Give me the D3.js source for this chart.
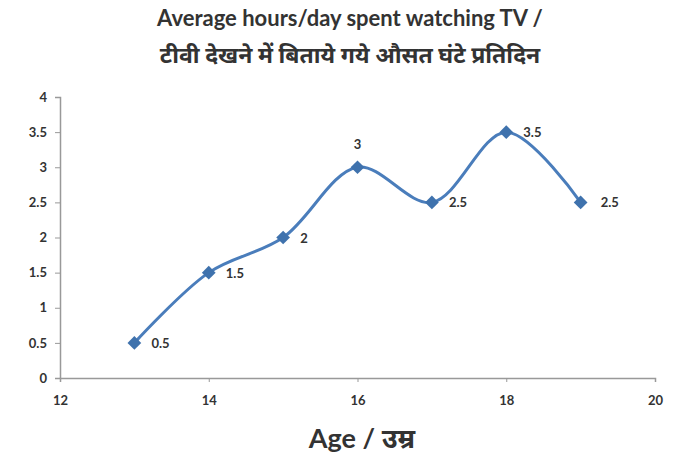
<!DOCTYPE html>
<html>
<head>
<meta charset="utf-8">
<script src="https://d3js.org/d3.v7.min.js"></script>
<style>
  body { margin: 0; background: #fff; }
  svg text { font-family: "Lato", "Noto Sans", "Noto Sans Devanagari", sans-serif; fill: #333; }
</style>
</head>
<body>
<svg id="chart" width="689" height="457"></svg>
<script>
// data
const ages = [13, 14, 15, 16, 17, 18, 19];
const hours = [0.5, 1.5, 2, 3, 2.5, 3.5, 2.5];
const xTicks = [12, 14, 16, 18, 20];
const yTicks = [0, 0.5, 1, 1.5, 2, 2.5, 3, 3.5, 4];
const titleLines = ["Average hours/day spent watching TV /", "टीवी देखने में बिताये गये औसत घंटे प्रतिदिन"];
const xTitle = "Age / उम्र";

const svg = d3.select("#chart");
const plotLeft = 60, plotRight = 655, plotTop = 97, plotBottom = 378;

const x = d3.scaleLinear().domain([12, 20]).range([plotLeft, plotRight]);
const y = d3.scaleLinear().domain([0, 4]).range([plotBottom, plotTop]);

// axes
const yAxis = svg.append("g")
  .attr("transform", `translate(${plotLeft},0)`)
  .call(d3.axisLeft(y).tickValues(yTicks).tickSize(5).tickPadding(8).tickFormat(d3.format("")));
const xAxis = svg.append("g")
  .attr("transform", `translate(0,${plotBottom})`)
  .call(d3.axisBottom(x).tickValues(xTicks).tickSize(4).tickPadding(14));

[yAxis, xAxis].forEach(g => {
  g.select(".domain").attr("stroke", "#999").attr("stroke-width", 1.5);
  g.selectAll(".tick line").attr("stroke", "#999");
  g.selectAll(".tick text").style("font-size", "13px").style("font-weight", "bold").attr("fill", "#444");
});

// line
const line = d3.line()
  .x((d, i) => x(ages[i]))
  .y(d => y(d))
  .curve(d3.curveCatmullRom.alpha(0.5));

svg.append("path")
  .datum(hours)
  .attr("d", line)
  .attr("fill", "none")
  .attr("stroke", "#4a7dbb")
  .attr("stroke-width", 3);

// markers
svg.selectAll(".pt")
  .data(hours)
  .join("path")
  .attr("class", "pt")
  .attr("transform", (d, i) => `translate(${x(ages[i])},${y(d)})`)
  .attr("d", d3.symbol(d3.symbolDiamond2, 120))
  .attr("fill", "#3f72ad");

// data labels
svg.selectAll(".lbl")
  .data(hours)
  .join("text")
  .attr("class", "lbl")
  .attr("x", (d, i) => x(ages[i]) + (i === 3 ? 0 : (i === 6 ? 20 : 17)))
  .attr("y", (d, i) => y(d) + (i === 3 ? -18 : 5))
  .attr("text-anchor", (d, i) => i === 3 ? "middle" : "start")
  .style("font-size", "13px")
  .style("font-weight", "bold")
  .attr("fill", "#444")
  .text(d => d);

// titles
svg.selectAll(".title")
  .data(titleLines)
  .join("text")
  .attr("class", "title")
  .attr("x", 350)
  .attr("y", (d, i) => 26 + i * 37)
  .attr("text-anchor", "middle")
  .style("font-size", (d, i) => i === 0 ? "22px" : "23px")
  .style("font-weight", "bold")
  .text(d => d);

svg.append("text")
  .attr("x", 362)
  .attr("y", 448)
  .attr("text-anchor", "middle")
  .style("font-size", "27px")
  .style("font-weight", "bold")
  .text(xTitle);
</script>
</body>
</html>
